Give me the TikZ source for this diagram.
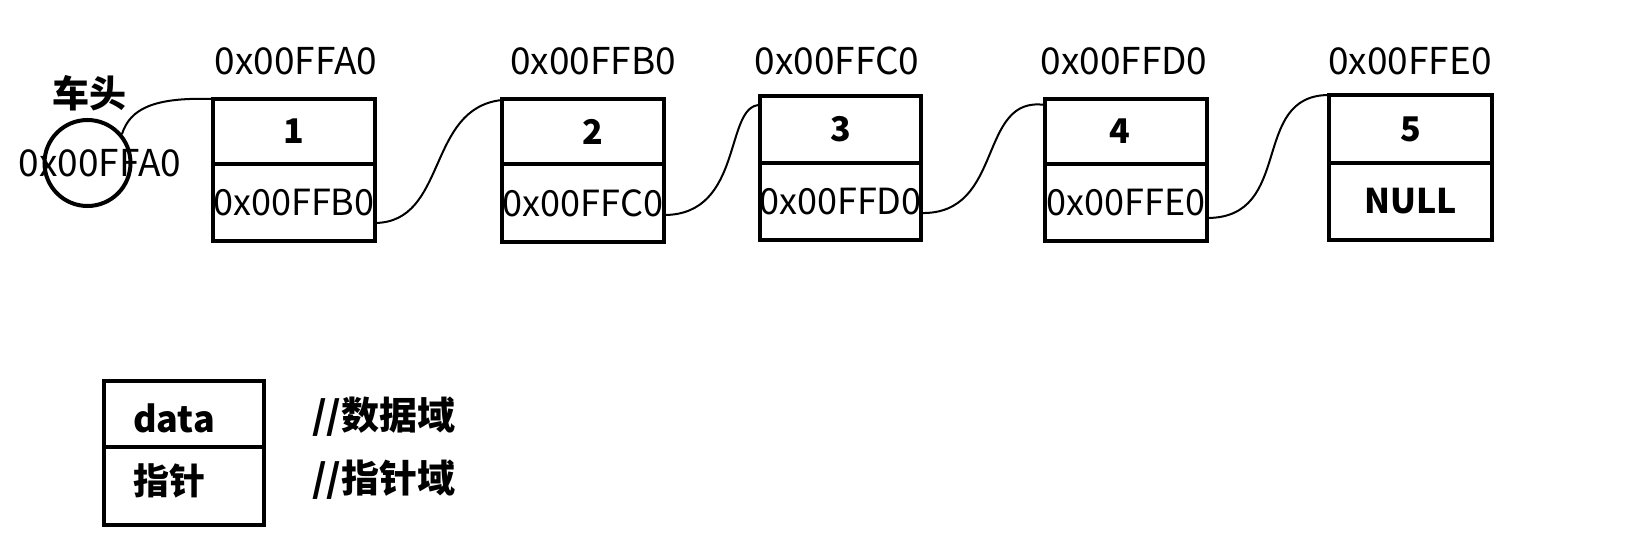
\documentclass[tikz,border=0pt]{standalone}
\usepackage{fontspec}
\setmainfont{Noto Sans CJK SC}
\usetikzlibrary{calc}
\begin{document}
\begin{tikzpicture}[x=1pt,y=-1pt,
  cell/.style={draw, rectangle, line width=4pt, inner sep=0pt, outer sep=0pt},
  link/.style={line width=2pt},
  addr/.style={inner sep=0pt, font=\fontsize{37}{40}\selectfont},
  val/.style={font=\fontsize{36}{40}\selectfont},
  num/.style={font=\fontsize{34}{40}\selectfont\bfseries},
  boxtxt/.style={inner sep=0pt, anchor=west, font=\fontsize{36}{40}\selectfont\bfseries},
  note/.style={inner sep=0pt, anchor=west, font=\fontsize{38}{40}\selectfont\bfseries}]
\useasboundingbox (0,0) rectangle (1651,546);

% head pointer
\node[draw, circle, line width=4pt, minimum size=86pt, inner sep=0pt] (head) at (87.5,163) {};
\node[addr] (headaddr) at (100,163) {0x00FFA0};
\node[inner sep=0pt, font=\fontsize{37}{40}\selectfont\bfseries] (headlbl) at (89,93) {车头};

% list nodes: data cell on top, pointer cell below
\node[cell, num, minimum width=162pt, minimum height=65pt] (b1d) at (294,131.5) {\makebox[0pt]{1}};
\node[cell, val, minimum width=162pt, minimum height=77pt] (b1p) at (294,202.5) {\makebox[0pt]{0x00FFB0}};

\node[cell, num, minimum width=162pt, minimum height=65pt] (b2d) at (583,131.5) {\makebox[0pt]{\kern20pt 2}};
\node[cell, val, minimum width=162pt, minimum height=78pt] (b2p) at (583,203) {\makebox[0pt]{0x00FFC0}};

\node[cell, num, minimum width=161pt, minimum height=67pt] (b3d) at (840.5,129.5) {\makebox[0pt]{3}};
\node[cell, val, minimum width=161pt, minimum height=77pt] (b3p) at (840.5,201.5) {\makebox[0pt]{0x00FFD0}};

\node[cell, num, minimum width=162pt, minimum height=65pt] (b4d) at (1126,131.5) {\makebox[0pt]{\kern-12pt 4}};
\node[cell, val, minimum width=162pt, minimum height=77pt] (b4p) at (1126,202.5) {\makebox[0pt]{0x00FFE0}};

\node[cell, num, minimum width=163pt, minimum height=68pt] (b5d) at (1410.5,129) {\makebox[0pt]{5}};
\node[cell, num, minimum width=163pt, minimum height=77pt] (b5p) at (1410.5,201.5) {\makebox[0pt]{NULL}};

% addresses above the nodes
\node[addr] (a1) at (296,61) {0x00FFA0};
\node[addr] (a2) at (593,61) {0x00FFB0};
\node[addr] (a3) at (837,61) {0x00FFC0};
\node[addr] (a4) at (1124,61) {0x00FFD0};
\node[addr] (a5) at (1410,61) {0x00FFE0};

% links
\draw[link] (head.40) .. controls +(8,-25) and +(-60,-2) .. (b1d.north west);
\draw[link] ($(b1p.south east)+(0,-18)$) .. controls +(73,-1) and +(-76,8) .. ($(b2d.north west)+(0,1)$);
\draw[link] ($(b2p.south east)+(0,-27)$) .. controls +(80,0) and +(-36,0) .. ($(b3d.north west)+(0,9)$);
\draw[link] ($(b3p.south east)+(0,-27)$) .. controls +(84,2) and +(-68,-10) .. ($(b4d.north west)+(0,6)$);
\draw[link] ($(b4p.south east)+(0,-23)$) .. controls +(88,0) and +(-80,0) .. (b5d.north west);

% legend
\node[cell, minimum width=160pt, minimum height=66pt] (legd) at (184,414) {};
\node[cell, minimum width=160pt, minimum height=78pt] (legp) at (184,486) {};
\node[boxtxt] (legdtxt) at (133,418) {data};
\node[boxtxt] (legptxt) at (133,481) {指针};
\node[note] (legdnote) at (312,417) {//数据域};
\node[note] (legpnote) at (312,480) {//指针域};
\end{tikzpicture}
\end{document}
